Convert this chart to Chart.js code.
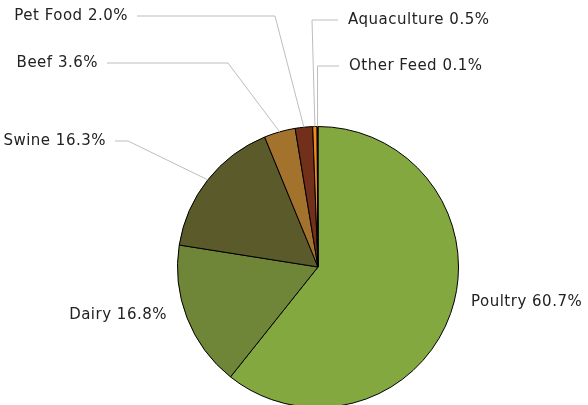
<!DOCTYPE html>
<html>
<head>
<meta charset="utf-8">
<script src="https://cdn.jsdelivr.net/npm/chart.js@4"></script>
<style>
  html, body { margin: 0; padding: 0; background: #fff; overflow: hidden; }
  #wrap { width: 588px; height: 420px; }
</style>
</head>
<body>
<div id="wrap"><canvas id="pie"></canvas></div>
<script>
// feed categories, clockwise from 12 o'clock
var categories = ["Poultry", "Dairy", "Swine", "Beef", "Pet Food", "Aquaculture", "Other Feed"];
var shares = [60.7, 16.8, 16.3, 3.6, 2.0, 0.5, 0.1];
var sliceColors = ["#84a840", "#6f8538", "#5a5a2a", "#a3732e", "#72301a", "#f08a1d", "#3a1a08"];

// label layout: text anchor x, y, alignment, elbow x for the leader line (null = above the slice)
var labelLayout = [
    { x: 471, y: 302, align: "left", leader: false },
    { x: 167, y: 315, align: "right", leader: false },
    { x: 106, y: 141, align: "right", leader: true, elbow: 128 },
    { x: 98, y: 63, align: "right", leader: true, elbow: 228 },
    { x: 128, y: 16, align: "right", leader: true, elbow: 275 },
    { x: 348, y: 20, align: "left", leader: true, elbow: 312 },
    { x: 349, y: 66, align: "left", leader: true, elbow: null }
];

var labelPlugin = {
    id: "sliceLabels",
    afterDatasetsDraw: function (chart) {
        var ctx = chart.ctx;
        var arcs = chart.getDatasetMeta(0).data;
        ctx.save();
        ctx.font = "15px 'DejaVu Sans'";
        ctx.letterSpacing = "0.5px";
        ctx.textBaseline = "middle";
        for (var i = 0; i < arcs.length; i++) {
            var arc = arcs[i];
            var lay = labelLayout[i];
            var text = categories[i] + " " + shares[i].toFixed(1) + "%";
            if (lay.leader) {
                var mid = (arc.startAngle + arc.endAngle) / 2;
                var ex = arc.x + Math.cos(mid) * arc.outerRadius;
                var ey = arc.y + Math.sin(mid) * arc.outerRadius;
                var bx = lay.elbow === null ? ex : lay.elbow;
                var tx = lay.align === "right" ? lay.x + 9 : lay.x - 10;
                ctx.beginPath();
                ctx.strokeStyle = "#bdbdbd";
                ctx.lineWidth = 1;
                ctx.moveTo(ex, ey);
                ctx.lineTo(bx, lay.y);
                ctx.lineTo(tx, lay.y);
                ctx.stroke();
            }
            ctx.fillStyle = "#222";
            ctx.textAlign = lay.align;
            ctx.fillText(text, lay.x, lay.y);
        }
        ctx.restore();
    }
};

new Chart(document.getElementById("pie"), {
    type: "pie",
    data: {
        labels: categories,
        datasets: [{
            data: shares,
            backgroundColor: sliceColors,
            borderColor: "#000",
            borderWidth: 1,
            clip: false
        }]
    },
    options: {
        responsive: true,
        maintainAspectRatio: false,
        animation: false,
        layout: { padding: { top: 126, bottom: 12, left: 48, right: 0 } },
        plugins: {
            legend: { display: false },
            tooltip: { enabled: false }
        }
    },
    plugins: [labelPlugin]
});
</script>
</body>
</html>
